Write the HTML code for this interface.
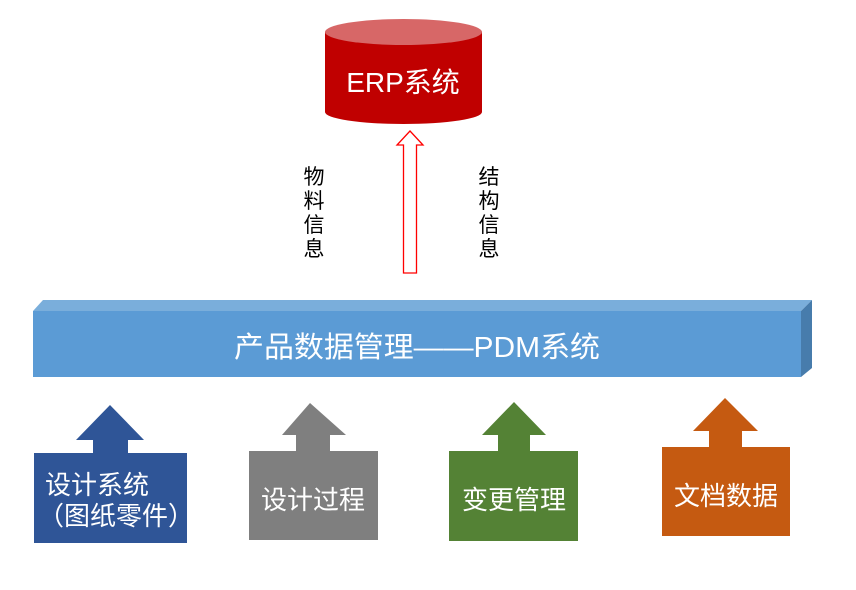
<!DOCTYPE html>
<html><head><meta charset="utf-8"><style>
html,body{margin:0;padding:0;background:#fff;}
svg{display:block;}
text{font-family:"Liberation Sans","Noto Sans CJK SC",sans-serif;}
</style></head><body>
<svg width="856" height="590" viewBox="0 0 856 590" xmlns="http://www.w3.org/2000/svg">
<!-- ERP cylinder -->
<path d="M325 32 L325 112 A78.5 12 0 0 0 482 112 L482 32 Z" fill="#c00000"/>
<ellipse cx="403.5" cy="32" rx="78.5" ry="13" fill="#d76767"/>
<text x="403" y="92" font-size="28" fill="#fff" text-anchor="middle">ERP系统</text>
<!-- hollow arrow -->
<path d="M410 131 L423 145 L416.5 145 L416.5 273 L403.5 273 L403.5 145 L397 145 Z" fill="#fff" stroke="#ff0000" stroke-width="1.3"/>
<g font-size="21" fill="#000" text-anchor="middle">
<text x="314" y="184">物</text><text x="314" y="208">料</text><text x="314" y="232">信</text><text x="314" y="256">息</text>
<text x="489" y="184">结</text><text x="489" y="208">构</text><text x="489" y="232">信</text><text x="489" y="256">息</text>
</g>
<!-- PDM bar -->
<polygon points="43,300 812,300 801,311 33,311" fill="#7aaedb"/>
<polygon points="801,311 812,300 812,368 801,377" fill="#477cac"/>
<rect x="33" y="311" width="768" height="66" fill="#5b9bd5"/>
<text x="234" y="357" font-size="29" fill="#fff" textLength="366" lengthAdjust="spacingAndGlyphs">产品数据管理——PDM系统</text>
<!-- blue -->
<path d="M110 405 L144 440 L128 440 L128 453 L93 453 L93 440 L76 440 Z" fill="#2f5597"/>
<rect x="34" y="453" width="153" height="90" fill="#2f5597"/>
<text x="45" y="494" font-size="26" fill="#fff">设计系统</text>
<text x="38" y="525" font-size="26" fill="#fff">（图纸零件）</text>
<!-- gray -->
<path d="M310 403 L346 435 L330 435 L330 451 L296 451 L296 435 L282 435 Z" fill="#7f7f7f"/>
<rect x="249" y="451" width="129" height="89" fill="#7f7f7f"/>
<text x="313" y="509" font-size="26" fill="#fff" text-anchor="middle">设计过程</text>
<!-- green -->
<path d="M514 402 L546 435 L530 435 L530 451 L498 451 L498 435 L482 435 Z" fill="#548235"/>
<rect x="449" y="451" width="129" height="90" fill="#548235"/>
<text x="514" y="509" font-size="26" fill="#fff" text-anchor="middle">变更管理</text>
<!-- orange -->
<path d="M725 398 L758 431 L742 431 L742 447 L709 447 L709 431 L693 431 Z" fill="#c55a11"/>
<rect x="662" y="447" width="128" height="89" fill="#c55a11"/>
<text x="726" y="505" font-size="26" fill="#fff" text-anchor="middle">文档数据</text>
</svg>
</body></html>
